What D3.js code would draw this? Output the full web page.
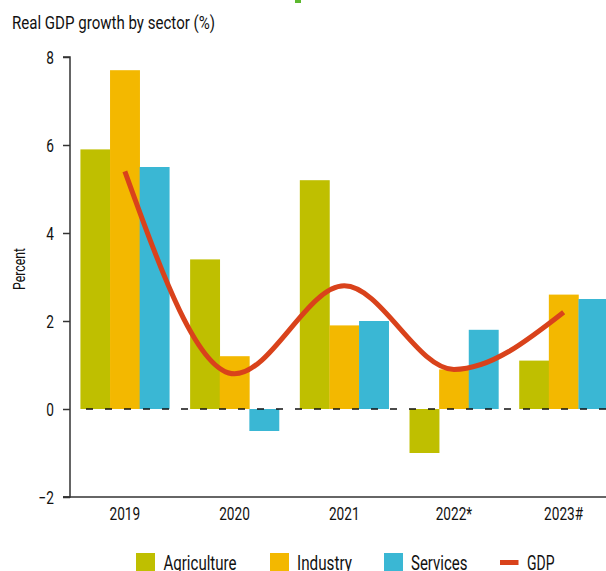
<!DOCTYPE html>
<html>
<head>
<meta charset="utf-8">
<script src="https://cdn.jsdelivr.net/npm/d3@7"></script>
<style>
  html, body { margin: 0; padding: 0; background: #fff; }
  text { font-family: Roboto, "Liberation Sans", sans-serif; fill: #111; }
</style>
</head>
<body>
<svg id="chart" width="606" height="571"></svg>
<script>
const years = ["2019", "2020", "2021", "2022*", "2023#"];
const agriculture = [5.9, 3.4, 5.2, -1.0, 1.1];
const industry = [7.7, 1.2, 1.9, 0.9, 2.6];
const services = [5.5, -0.5, 2.0, 1.8, 2.5];
const gdp = [5.4, 0.8, 2.8, 0.9, 2.2];
const yTicks = [-2, 0, 2, 4, 6, 8];
const seriesNames = ["Agriculture", "Industry", "Services"];
const seriesColors = ["#BFBF00", "#F3B800", "#3AB7D4"];
const gdpColor = "#D9421B";

const svg = d3.select("#chart");

// tiny green fragment cut at the top of the source image
svg.append("rect").attr("x", 295).attr("y", 0).attr("width", 6).attr("height", 3).attr("fill", "#5CB82E");

const x0 = 70, y0 = 57, yBottom = 497;
const y = d3.scaleLinear().domain([-2, 8]).range([yBottom, y0]);
const x = d3.scaleBand().domain(years).range([x0, x0 + 5 * 109.7]).paddingInner(0.19).paddingOuter(0.095);
const xs = d3.scaleBand().domain(seriesNames).range([0, x.bandwidth()]);

// title
svg.append("text").attr("x", 12).attr("y", 29).attr("font-size", 19)
  .attr("textLength", 203).attr("lengthAdjust", "spacingAndGlyphs")
  .text("Real GDP growth by sector (%)");

// bars
const data = [agriculture, industry, services];
years.forEach((yr, i) => {
  data.forEach((arr, s) => {
    const v = arr[i];
    svg.append("rect")
      .attr("x", x(yr) + xs(seriesNames[s]))
      .attr("width", xs.bandwidth() + 0.3)
      .attr("y", y(Math.max(0, v)))
      .attr("height", Math.abs(y(v) - y(0)))
      .attr("fill", seriesColors[s]);
  });
});

// dashed zero line
svg.append("line").attr("x1", 86).attr("x2", 606).attr("y1", y(0)).attr("y2", y(0))
  .attr("stroke", "#111").attr("stroke-width", 1.6).attr("stroke-dasharray", "7,12");

// GDP line
const line = d3.line()
  .x((d, i) => x(years[i]) + x.bandwidth() / 2)
  .y(d => y(d))
  .curve(d3.curveMonotoneX);
svg.append("path").datum(gdp).attr("d", line).attr("fill", "none")
  .attr("stroke", gdpColor).attr("stroke-width", 5);

// y axis
const yAxis = svg.append("g").attr("transform", `translate(${x0},0)`)
  .call(d3.axisLeft(y).tickValues(yTicks).tickSize(7).tickFormat(d => d < 0 ? "\u2212" + Math.abs(d) : d));
yAxis.select(".domain").attr("stroke", "#333").attr("stroke-width", 1.5).attr("d", `M-7,${y0}H0V${yBottom}H-7`);
yAxis.selectAll(".tick line").attr("stroke", "#333").attr("stroke-width", 1.5);
yAxis.selectAll(".tick text").attr("font-size", 17.5).attr("font-family", "Roboto, sans-serif")
  .attr("fill", "#111").attr("x", -16 / 0.78).attr("dy", "0.36em")
  .attr("transform", "scale(0.78,1)");

// x axis
const xAxis = svg.append("g").attr("transform", `translate(0,${yBottom})`)
  .call(d3.axisBottom(x).tickSize(0).tickPadding(0));
xAxis.select(".domain").attr("d", `M63,0H606`).attr("stroke", "#333").attr("stroke-width", 1.5);
xAxis.selectAll(".tick text").attr("font-size", 17.5).attr("font-family", "Roboto, sans-serif")
  .attr("fill", "#111").attr("y", 23).attr("dy", 0)
  .attr("transform", "scale(0.78,1)");

// y axis label
svg.append("text").attr("transform", "translate(25,269) rotate(-90)")
  .attr("text-anchor", "middle").attr("font-size", 17)
  .attr("textLength", 42).attr("lengthAdjust", "spacingAndGlyphs").text("Percent");

// legend
const legend = [
  { name: "Agriculture", color: seriesColors[0], sx: 136, tx: 163.5, tw: 73, type: "box" },
  { name: "Industry", color: seriesColors[1], sx: 270, tx: 297, tw: 55, type: "box" },
  { name: "Services", color: seriesColors[2], sx: 384, tx: 411, tw: 56.5, type: "box" },
  { name: "GDP", color: gdpColor, sx: 500, tx: 527, tw: 27.5, type: "line" }
];
legend.forEach(l => {
  if (l.type === "box") {
    svg.append("rect").attr("x", l.sx).attr("y", 553).attr("width", 19).attr("height", 19).attr("fill", l.color);
  } else {
    svg.append("rect").attr("x", l.sx).attr("y", 560).attr("width", 18.5).attr("height", 5).attr("fill", l.color);
  }
  svg.append("text").attr("x", l.tx).attr("y", 570).attr("font-size", 20)
    .attr("textLength", l.tw).attr("lengthAdjust", "spacingAndGlyphs").text(l.name);
});
</script>
</body>
</html>
